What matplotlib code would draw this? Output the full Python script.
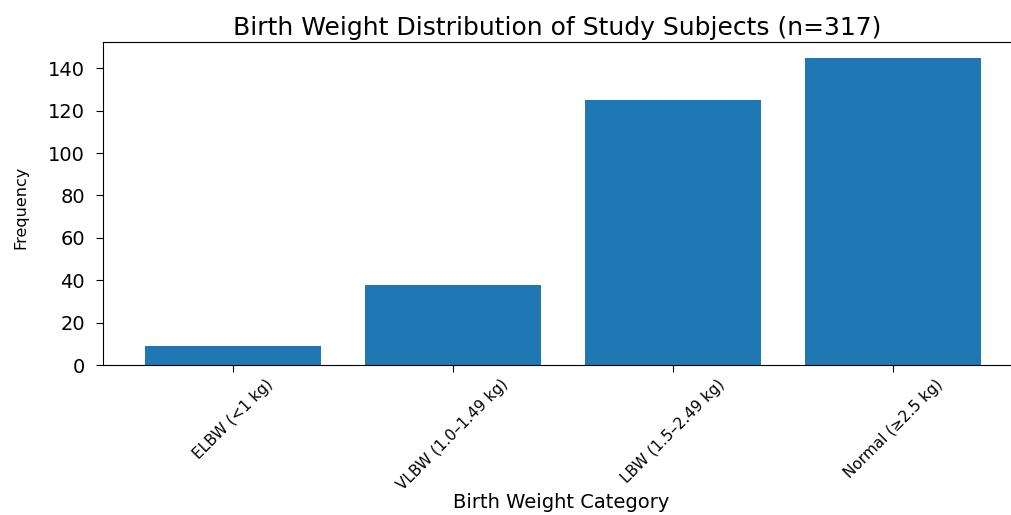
import matplotlib
matplotlib.use("Agg")
import matplotlib.pyplot as plt

# Les catégories et les effectifs
categories = ["ELBW (<1 kg)", "VLBW (1.0–1.49 kg)", "LBW (1.5–2.49 kg)", "Normal (≥2.5 kg)"]
counts = [9, 38, 125, 145]

fig = plt.figure(figsize=(10.12, 5.15), dpi=100)
ax = fig.add_axes([0.102, 0.291, 0.898, 0.627])

ax.bar(categories, counts, width=0.8, color="#1f77b4")
ax.set_xlim(-0.59, 3.54)

ax.set_title("Birth Weight Distribution of Study Subjects (n=317)", fontsize=18, pad=5)
ax.set_xlabel("Birth Weight Category", fontsize=14, va="center")
ax.set_ylabel("Frequency", fontsize=11.5, va="center")
ax.xaxis.set_label_coords(0.504, -0.425)
ax.yaxis.set_label_coords(-0.091, 0.49)
ax.tick_params(axis="y", labelsize=14, pad=8, length=5)
ax.tick_params(axis="x", labelsize=11, length=5)
plt.setp(ax.get_xticklabels(), rotation=45, ha="center")

fig.savefig("out.png", dpi=100)
